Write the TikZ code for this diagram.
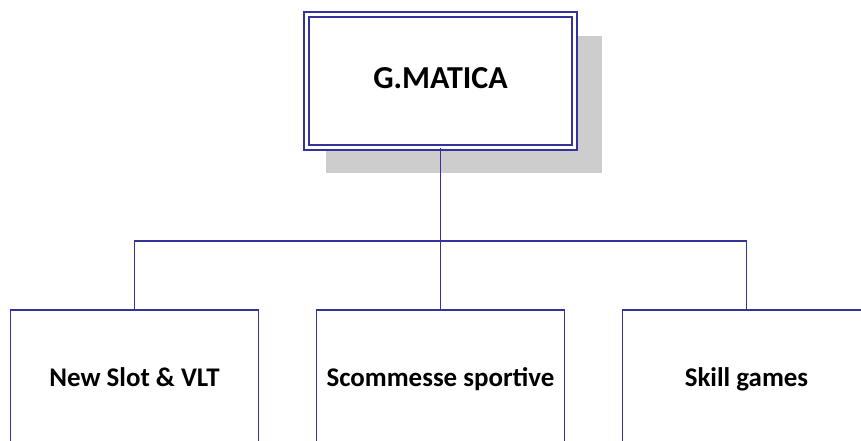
\documentclass[tikz,border=0pt]{standalone}
\usepackage{fontspec}
\setmainfont{Carlito}
\usepackage{tikz}
\usetikzlibrary{shadows}
\definecolor{orgblue}{HTML}{333399}
\definecolor{shadowgray}{HTML}{CDCDCD}
\tikzset{
    org root/.style={
        draw=orgblue,
        line width=1.1pt,
        double=white,
        double distance=2.65pt,
        fill=white,
        minimum width=201pt,
        minimum height=99.75pt,
        text height=0.644em+5.5pt,
        text depth=0pt,
        font=\fontsize{24}{28}\selectfont\bfseries,
        drop shadow={shadow xshift=16.9pt, shadow yshift=-17.25pt,
            shadow scale=1.03, fill=shadowgray, opacity=1}
    },
    org box/.style={
        draw=orgblue,
        line width=1.4pt,
        fill=white,
        minimum width=186pt,
        minimum height=102pt,
        text height=0.644em+6.5pt,
        text depth=0pt,
        font=\fontsize{20.2}{24}\selectfont\bfseries
    },
    org line/.style={draw=orgblue, line width=1.4pt}
}

\begin{document}
\begin{tikzpicture}[x=0.75pt, y=-0.75pt]
\useasboundingbox (0,0) rectangle (861,441);
\clip (0,0) rectangle (861,441);

% head of the chart
\node[org root] (head) at (440.5,81) {G.MATICA};

% business units
\node[org box] (slot)  at (134.5,378) {New Slot \& VLT};
\node[org box] (sport) at (440.5,378) {Scommesse sportive};
\node[org box] (skill) at (746.5,378) {Skill games};

% connectors
\coordinate (bus) at (440.5,241);
\draw[org line] (head.south) -- (bus);
\draw[org line] (bus) -| (slot.north);
\draw[org line] (bus) -- (sport.north);
\draw[org line] (bus) -| (skill.north);
\end{tikzpicture}
\end{document}
